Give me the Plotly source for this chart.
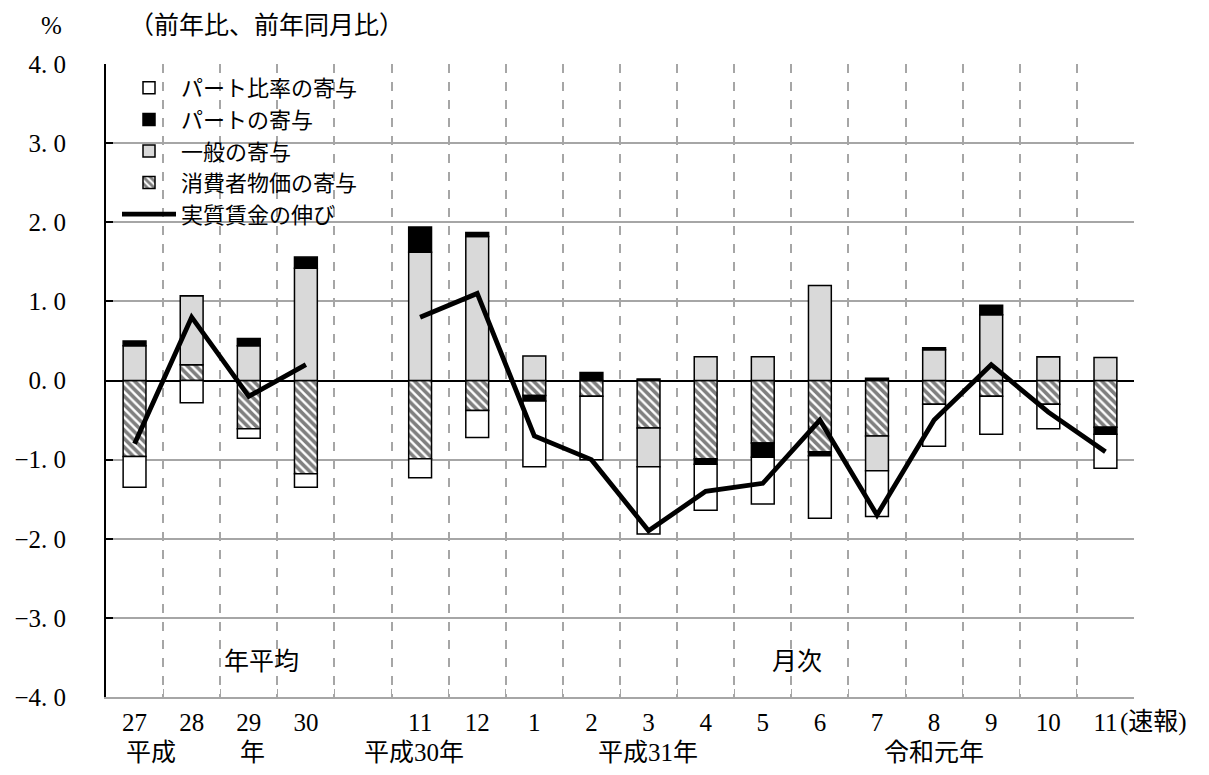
import plotly.graph_objects as go

# ---- data ----
categories = ["27", "28", "29", "30", " ", "11", "12", "1", "2", "3", "4", "5",
              "6", "7", "8", "9", "10", "11 "]
tick_labels = ["27", "28", "29", "30", "", "11", "12", "1", "2", "3", "4", "5",
               "6", "7", "8", "9", "10", "11"]

cpi_contrib = [-0.96, 0.20, -0.61, -1.18, None, -0.99, -0.38, -0.19, -0.20, -0.60,
               -0.99, -0.79, -0.90, -0.70, -0.30, -0.20, -0.30, -0.59]
general_contrib = [0.44, 0.87, 0.44, 1.42, None, 1.62, 1.82, 0.31, 0.0, -0.49,
                   0.30, 0.30, 1.20, -0.44, 0.39, 0.83, 0.30, 0.29]
part_contrib = [0.06, 0.0, 0.09, 0.14, None, 0.32, 0.05, -0.07, 0.10, 0.02,
                -0.07, -0.18, -0.05, 0.03, 0.025, 0.12, 0.0, -0.09]
part_ratio_contrib = [-0.39, -0.28, -0.12, -0.17, None, -0.24, -0.34, -0.83, -0.80, -0.85,
                      -0.58, -0.59, -0.79, -0.58, -0.53, -0.48, -0.31, -0.43]
real_wage_growth = [-0.8, 0.8, -0.2, 0.2, None, 0.8, 1.1, -0.7, -1.0, -1.9,
                    -1.4, -1.3, -0.5, -1.7, -0.5, 0.2, -0.4, -0.9]

y_ticks = [4, 3, 2, 1, 0, -1, -2, -3, -4]

# ---- styling ----
FONT = "Liberation Serif, Noto Sans CJK JP"
FS = 25
GRID = "#a6a6a6"
OUT = dict(color="black", width=1.5)

fig = go.Figure()

fig.add_trace(go.Bar(
    x=categories, y=cpi_contrib, name="消費者物価の寄与", legendrank=4,
    marker=dict(color="white", line=OUT,
                pattern=dict(shape="\\", fgcolor="black", bgcolor="white",
                             size=6, solidity=0.6)),
))
fig.add_trace(go.Bar(
    x=categories, y=general_contrib, name="一般の寄与", legendrank=3,
    marker=dict(color="#d9d9d9", line=OUT),
))
fig.add_trace(go.Bar(
    x=categories, y=part_contrib, name="パートの寄与", legendrank=2,
    marker=dict(color="black", line=OUT),
))
fig.add_trace(go.Bar(
    x=categories, y=part_ratio_contrib, name="パート比率の寄与", legendrank=1,
    marker=dict(color="white", line=OUT),
))
fig.add_trace(go.Scatter(
    x=categories, y=real_wage_growth, name="実質賃金の伸び", legendrank=5,
    mode="lines", line=dict(color="black", width=4.8), connectgaps=False,
))

def fmt(v):
    s = f"{abs(v):.1f}".replace(".", ". ")
    return ("\u2212" + s) if v < 0 else s

# page body has an 8px margin; work in screen pixels and subtract it
OFF = 8
W, H = 1209 - 2 * OFF, 775 - 2 * OFF
L, R, T, B = 106 - OFF, 1134 - OFF, 64 - OFF, 697 - OFF

def px(xs):
    return (xs - OFF - L) / (R - L)

def py(ys):
    return (B - (ys - OFF)) / (B - T)

fig.update_layout(
    width=W, height=H,
    margin=dict(l=L, r=W - R, t=T, b=H - B, pad=0),
    plot_bgcolor="white", paper_bgcolor="white",
    barmode="relative", bargap=0.6,
    font=dict(family=FONT, size=FS, color="black"),
    showlegend=True,
    legend=dict(x=px(117), y=py(67), xanchor="left", yanchor="top",
                bgcolor="rgba(0,0,0,0)", font=dict(size=22),
                itemwidth=54, tracegroupgap=0),
    xaxis=dict(type="category", categoryorder="array", categoryarray=categories,
               tickmode="array", tickvals=categories, ticktext=tick_labels,
               tickson="boundaries", showgrid=True, gridcolor=GRID, gridwidth=1.5,
               griddash="dash", ticks="inside", ticklen=8, tickcolor=GRID,
               showline=True, linecolor=GRID, linewidth=1.5, automargin=False,
               tickfont=dict(size=FS), ticklabelstandoff=2),
    yaxis=dict(range=[-4, 4], tickmode="array", tickvals=y_ticks,
               ticktext=[fmt(v) for v in y_ticks],
               showgrid=True, gridcolor=GRID, gridwidth=1.5,
               zeroline=True, zerolinecolor="black", zerolinewidth=2,
               showline=True, linecolor="black", linewidth=2, automargin=False,
               ticks="inside", ticklen=7, tickcolor="black", tickwidth=2,
               tickfont=dict(size=FS), ticklabelstandoff=33),
)

annos = [
    dict(text="%", x=px(51), y=py(26)),
    dict(text="（前年比、前年同月比）", x=px(266), y=py(26)),
    dict(text="年平均", x=px(261), y=py(661)),
    dict(text="月次", x=px(797), y=py(661)),
    dict(text="平成", x=px(151), y=py(752)),
    dict(text="年", x=px(252), y=py(752)),
    dict(text="平成30年", x=px(414), y=py(752)),
    dict(text="平成31年", x=px(648), y=py(752)),
    dict(text="令和元年", x=px(934), y=py(752)),
]
for a in annos:
    fig.add_annotation(xref="paper", yref="paper", showarrow=False,
                       xanchor="center", yanchor="middle", font=dict(size=FS), **a)
fig.add_annotation(text="(速報)", xref="paper", yref="paper", x=px(1118), y=py(722),
                   xanchor="left", yanchor="middle", showarrow=False, font=dict(size=FS))

fig.write_html("out.html")
